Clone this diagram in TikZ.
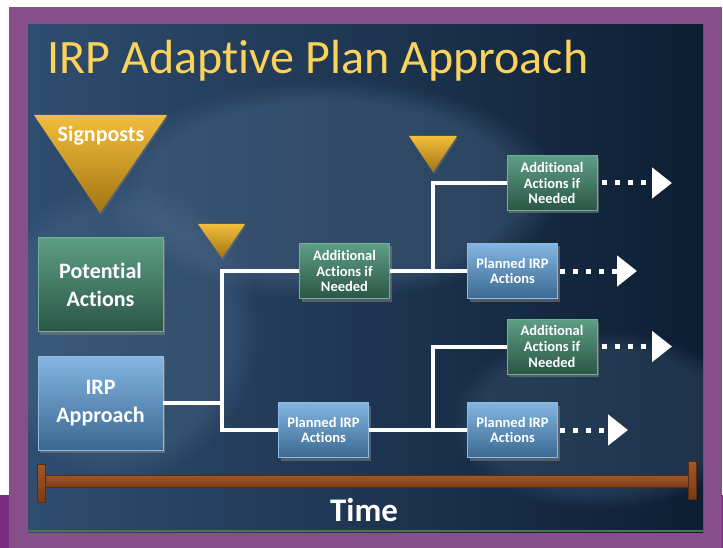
\documentclass[tikz,border=0pt]{standalone}
\usepackage{fontspec}
\setmainfont{Carlito}[Ligatures=NoCommon]
\usetikzlibrary{shadows, arrows.meta, fadings}

\definecolor{frame}{HTML}{864F8A}
\definecolor{framedark}{HTML}{7A2E82}
\definecolor{panelL}{HTML}{2F4D6F}
\definecolor{panelR}{HTML}{0C1E33}
\definecolor{haze}{HTML}{557392}
\definecolor{goldtop}{HTML}{F2BE3C}
\definecolor{goldbot}{HTML}{A27412}
\definecolor{addtop}{HTML}{5E9E86}
\definecolor{addbot}{HTML}{2A5646}
\definecolor{addline}{HTML}{6FB096}
\definecolor{plantop}{HTML}{84B6E2}
\definecolor{planbot}{HTML}{3A6890}
\definecolor{planline}{HTML}{8EBCE6}
\definecolor{bartop}{HTML}{A0582A}
\definecolor{barbot}{HTML}{7A3C14}
\definecolor{barline}{HTML}{5A2A0C}
\definecolor{titlegold}{HTML}{FCD35A}

\tikzset{
  box/.style={draw, line width=0.8pt, inner sep=0pt, align=center, text=white,
    drop shadow={shadow xshift=2pt, shadow yshift=-3pt, opacity=0.55}},
  addbox/.style={box, draw=addline, top color=addtop, bottom color=addbot},
  planbox/.style={box, draw=planline, top color=plantop, bottom color=planbot},
  bigbox/.style={minimum width=125pt, minimum height=94pt,
    font=\bfseries\fontsize{22}{28}\selectfont},
  smallbox/.style={minimum width=90pt, minimum height=55pt,
    font=\bfseries\fontsize{14.5}{15.8}\selectfont},
  marker/.style={top color=goldtop, bottom color=goldbot,
    drop shadow={shadow xshift=1pt, shadow yshift=-2pt, opacity=0.4}},
  wire/.style={draw=white, line width=4pt},
  trail/.style={draw=white, line width=5pt, dash pattern=on 5pt off 8pt,
    -{Triangle[length=20pt, width=30pt]}},
  bar/.style={top color=bartop, bottom color=barbot, draw=barline, line width=0.8pt},
  glow/.style={haze, path fading=circle with fuzzy edge 20 percent}
}

\begin{document}
\begin{tikzpicture}[x=1pt, y=-1pt]
\useasboundingbox (0,0) rectangle (723,548);
% frame and backdrop
\fill[white] (0,0) rectangle (723,548);
\fill[frame] (9,7) rectangle (722,548);
\fill[framedark] (0,495) rectangle (9,548);
\fill[framedark] (722,495) rectangle (723,548);
\shade[left color=panelL, right color=panelR] (28,25) rectangle (703,532);
\begin{scope}
  \clip (28,25) rectangle (703,532);
  \fill[glow, opacity=0.35] (330,190) ellipse (230 and 110);
  \fill[glow, opacity=0.3] (120,330) ellipse (140 and 150);
  \fill[glow, opacity=0.25] (600,420) ellipse (150 and 90);
\end{scope}
\draw[black!60!green!40!gray, line width=1.5pt] (28,531) -- (703,531);

\node[anchor=base west, text=titlegold, font=\fontsize{48}{52}\selectfont] (head) at (44,74) {IRP Adaptive Plan Approach};

% signposts
\path[marker] (34,115) -- (167,115) -- (100,213) -- cycle;
\path[marker] (198,224) -- (245,224) -- (222,258) -- cycle;
\path[marker] (409,136) -- (457,136) -- (433,172) -- cycle;
\node[text=white, font=\bfseries\fontsize{22}{26}\selectfont] (sign) at (101,136) {Signposts};

% boxes
\node[addbox, bigbox] (pot) at (100.5,284.5) {Potential\\Actions};
\node[planbox, bigbox] (irp) at (100.5,403) {IRP\\Approach};
\node[addbox, smallbox] (add1) at (344.5,271) {Additional\\Actions if\\Needed};
\node[planbox, smallbox] (plan1) at (323.5,430) {Planned IRP\\Actions};
\node[addbox, smallbox] (add2) at (552,183) {Additional\\Actions if\\Needed};
\node[planbox, smallbox] (plan2) at (512.5,271) {Planned IRP\\Actions};
\node[addbox, smallbox] (add3) at (552,346.5) {Additional\\Actions if\\Needed};
\node[planbox, smallbox] (plan3) at (512.5,430) {Planned IRP\\Actions};

% branches
\coordinate (j1) at (222,403);
\coordinate (j2) at (433,271);
\coordinate (j3) at (433,430);
\draw[wire] (irp.east) -- (j1);
\draw[wire] (add1.west) -| (j1) |- (plan1.west);
\draw[wire] (add1.east) -- (plan2.west);
\draw[wire] (add2.west) -| (j2);
\draw[wire] (plan1.east) -- (plan3.west);
\draw[wire] (add3.west) -| (j3);

% onward
\coordinate (t1) at (672,183);
\coordinate (t2) at (637,271);
\coordinate (t3) at (672,346.5);
\coordinate (t4) at (628,430);
\draw[trail] ([xshift=5pt]add2.east) -- (t1);
\draw[trail] ([xshift=2pt]plan2.east) -- (t2);
\draw[trail] ([xshift=5pt]add3.east) -- (t3);
\draw[trail] ([xshift=2pt]plan3.east) -- (t4);

% time line
\path[bar] (41,475) rectangle (692,487);
\path[bar] (37,464) rectangle (45,502);
\path[bar] (688,461) rectangle (696,499);
\node[text=white, font=\bfseries\fontsize{33}{36}\selectfont] (time) at (364,510) {Time};
\end{tikzpicture}
\end{document}
